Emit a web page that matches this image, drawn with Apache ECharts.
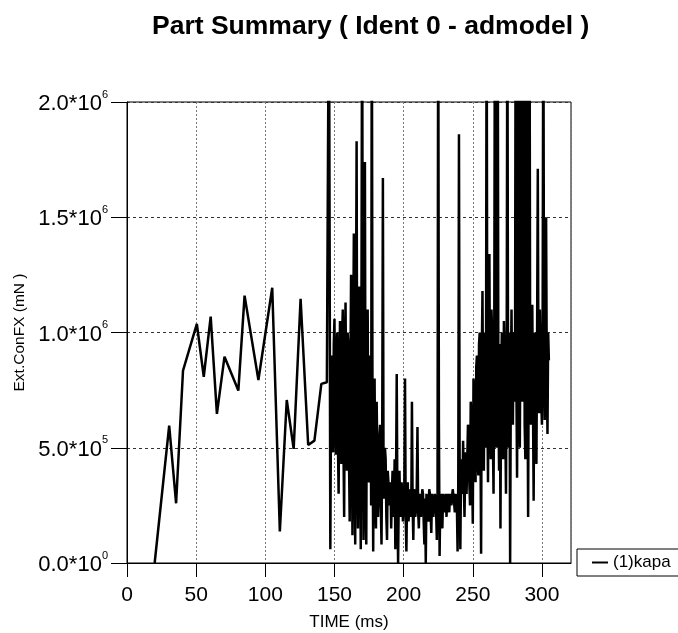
<!DOCTYPE html>
<html>
<head>
<meta charset="utf-8">
<script src="https://cdn.jsdelivr.net/npm/echarts@6/dist/echarts.min.js"></script>
<style>html,body{margin:0;padding:0;background:#fff;}#c{width:678px;height:633px;}</style>
</head>
<body>
<div id="c"></div>
<script>
// ---- data (TIME in ms, force in thousands of mN) ----
const earlyTime = [20, 30.5, 35.5, 40.5, 50.5, 55.5, 60.5, 65, 70.5, 80.5, 85, 95, 105, 110.5, 115.5, 120.5, 125.5, 131, 135.5, 140.5, 144.5];
const earlyValueK = [0, 596, 259, 835, 1037, 808, 1069, 647, 895, 748, 1160, 794, 1194, 137, 707, 495, 1146, 512, 531, 777, 784];

const denseTime = [
  146,146.5,147,147.5,148,148.5,149,149.5,150,150.5,
  151,151.5,152,152.5,153,153.5,154,154.5,155,155.5,
  156,156.5,157,157.5,158,158.5,159,159.5,160,160.5,
  161,161.5,162,162.5,163,163.5,164,164.5,165,165.5,
  166,166.5,167,167.5,168,168.5,169,169.5,170,170.5,
  171,171.5,172,172.5,173,173.5,174,174.5,175,175.5,
  176,176.5,177,177.5,178,178.5,179,179.5,180,180.5,
  181,181.5,182,182.5,183,183.5,184,184.5,185,185.5,
  186,186.5,187,187.5,188,188.5,189,189.5,190,190.5,
  191,191.5,192,192.5,193,193.5,194,194.5,195,195.5,
  196,196.5,197,197.5,198,198.5,199,199.5,200,200.5,
  201,201.5,202,202.5,203,203.5,204,204.5,205,205.5,
  206,206.5,207,207.5,208,208.5,209,209.5,210,210.5,
  211,211.5,212,212.5,213,213.5,214,214.5,215,215.5,
  216,216.5,217,217.5,218,218.5,219,219.5,220,220.5,
  221,221.5,222,222.5,223,223.5,224,224.5,225,225.5,
  226,226.5,227,227.5,228,228.5,229,229.5,230,230.5,
  231,231.5,232,232.5,233,233.5,234,234.5,235,235.5,
  236,236.5,237,237.5,238,238.5,239,239.5,240,240.5,
  241,241.5,242,242.5,243,243.5,244,244.5,245,245.5,
  246,246.5,247,247.5,248,248.5,249,249.5,250,250.5,
  251,251.5,252,252.5,253,253.5,254,254.5,255,255.5,
  256,256.5,257,257.5,258,258.5,259,259.5,260,260.5,
  261,261.5,262,262.5,263,263.5,264,264.5,265,265.5,
  266,266.5,267,267.5,268,268.5,269,269.5,270,270.5,
  271,271.5,272,272.5,273,273.5,274,274.5,275,275.5,
  276,276.5,277,277.5,278,278.5,279,279.5,280,280.5,
  281,281.5,282,282.5,283,283.5,284,284.5,285,285.5,
  286,286.5,287,287.5,288,288.5,289,289.5,290,290.5,
  291,291.5,292,292.5,293,293.5,294,294.5,295,295.5,
  296,296.5,297,297.5,298,298.5,299,299.5,300,300.5,
  301,301.5,302,302.5,303,303.5,304,304.5,305
];
const denseValueK = [
  2600, 1400, 60, 700, 900, 550, 480, 950, 1060, 600,
  470, 900, 1000, 520, 300, 800, 1050, 650, 430, 980,
  1100, 500, 200, 900, 1130, 700, 400, 1000, 950, 450,
  180, 800, 1250, 600, 120, 900, 1430, 500, 80, 1000,
  1830, 400, 150, 950, 1200, 500, 60, 1100, 2600, 700,
  100, 900, 1740, 300, 80, 1000, 1100, 400, 350, 850,
  900, 250, 2600, 600, 50, 650, 800, 300, 150, 700,
  700, 200, 330, 550, 600, 250, 80, 500, 1670, 300,
  280, 500, 450, 200, 100, 400, 350, 250, 300, 350,
  150, 300, 400, 200, 260, 450, 60, 350, 820, 250,
  0, 300, 400, 220, 200, 350, 310, 180, 250, 330,
  800, 200, 50, 300, 350, 180, 220, 320, 300, 200,
  700, 250, 100, 320, 300, 200, 250, 330, 590, 220,
  150, 300, 280, 200, 200, 320, 300, 180, 80, 280,
  0, 300, 260, 200, 180, 320, 300, 220, 130, 300,
  250, 200, 200, 300, 280, 220, 100, 300, 2600, 600,
  30, 280, 300, 220, 150, 300, 250, 220, 270, 300,
  200, 280, 300, 240, 220, 300, 280, 250, 250, 320,
  320, 260, 220, 300, 280, 250, 50, 350, 1860, 400,
  60, 400, 450, 300, 530, 350, 200, 400, 480, 300,
  300, 600, 560, 350, 250, 700, 600, 400, 170, 800,
  750, 500, 350, 850, 900, 450, 380, 950, 1000, 600,
  40, 900, 1180, 600, 400, 1000, 950, 500, 2600, 700,
  350, 900, 1340, 600, 450, 1100, 1000, 550, 300, 900,
  2600, 650, 500, 1000, 2600, 700, 400, 950, 150, 800,
  1000, 550, 450, 1050, 900, 600, 300, 900, 2600, 700,
  500, 1000, 0, 800, 1100, 650, 600, 1000, 1000, 700,
  2600, 800, 370, 1000, 2600, 700, 500, 1100, 2600, 800,
  700, 1100, 2600, 600, 450, 1000, 2600, 900, 200, 1000,
  2600, 800, 600, 1050, 1120, 700, 270, 950, 1000, 600,
  430, 1000, 1710, 800, 650, 1100, 1100, 700, 600, 1050,
  2600, 900, 620, 1100, 1500, 800, 560, 1000, 880
];

const xTicks = [0, 50, 100, 150, 200, 250, 300];
const yTickMantissa = ['0.0', '5.0', '1.0', '1.5', '2.0'];
const yTickExponent = ['0', '5', '6', '6', '6'];
const seriesName = '(1)kapa';

// ---- build ----
const data = [];
earlyTime.forEach((t, i) => data.push([t, earlyValueK[i] * 1000]));
denseTime.forEach((t, i) => data.push([t, denseValueK[i] * 1000]));

const FONT = 'Liberation Sans, Arial, sans-serif';
const chart = echarts.init(document.getElementById('c'), null, {renderer: 'canvas'});
chart.setOption({
  animation: false,
  backgroundColor: '#fff',
  title: {
    text: 'Part Summary ( Ident 0 - admodel )',
    left: 147, top: 8,
    textStyle: {fontFamily: FONT, fontSize: 26.5, fontWeight: 'bold', color: '#000'}
  },
  grid: {
    left: 127, top: 102, right: 107, bottom: 70,
    outerBoundsMode: 'none', containLabel: false,
    show: true, borderColor: '#000', borderWidth: 1, backgroundColor: 'transparent'
  },
  legend: {
    left: 577, top: 549,
    borderColor: '#000', borderWidth: 1, borderRadius: 0,
    padding: [5, 60, 5, 15],
    itemWidth: 16, itemHeight: 2, itemGap: 5,
    icon: 'rect',
    textStyle: {fontFamily: FONT, fontSize: 17, color: '#000'},
    data: [seriesName]
  },
  xAxis: {
    type: 'value', min: 0, max: 321, interval: 50,
    name: 'TIME (ms)', nameLocation: 'middle', nameGap: 51,
    nameTextStyle: {fontFamily: FONT, fontSize: 17, color: '#000'},
    axisLine: {show: true, onZero: false, lineStyle: {color: '#000', width: 1}},
    axisTick: {show: true, inside: false, length: 14, lineStyle: {color: '#000', width: 1}},
    axisLabel: {
      show: true, margin: 22, color: '#000', fontFamily: FONT, fontSize: 21, showMaxLabel: false,
      formatter: v => (xTicks.indexOf(v) >= 0 ? String(v) : '')
    },
    splitLine: {show: true, lineStyle: {color: '#777', type: [2, 2], width: 1}}
  },
  yAxis: {
    type: 'value', min: 0, max: 2000000, interval: 500000,
    name: 'Ext.ConFX (mN )', nameLocation: 'middle', nameGap: 98, nameRotate: 90,
    nameTextStyle: {fontFamily: FONT, fontSize: 15.5, color: '#000'},
    axisLine: {show: true, onZero: false, lineStyle: {color: '#000', width: 1}},
    axisTick: {show: true, inside: false, length: 16, lineStyle: {color: '#000', width: 1}},
    axisLabel: {
      show: true, margin: 19, color: '#000', fontFamily: FONT,
      formatter: v => {
        const i = Math.round(v / 500000);
        return '{m|' + yTickMantissa[i] + '*10}{e|' + yTickExponent[i] + '}';
      },
      rich: {
        m: {fontSize: 22, fontFamily: FONT, color: '#000', lineHeight: 26, verticalAlign: 'bottom'},
        e: {fontSize: 11, fontFamily: FONT, color: '#000', lineHeight: 26, verticalAlign: 'top'}
      }
    },
    splitLine: {show: true, lineStyle: {color: '#333', type: [3, 3], width: 1}}
  },
  series: [{
    name: seriesName,
    type: 'line',
    data: data,
    showSymbol: false,
    symbol: 'none',
    clip: true,
    lineStyle: {color: '#000', width: 2.5},
    itemStyle: {color: '#000'}
  }]
});
</script>
</body>
</html>
